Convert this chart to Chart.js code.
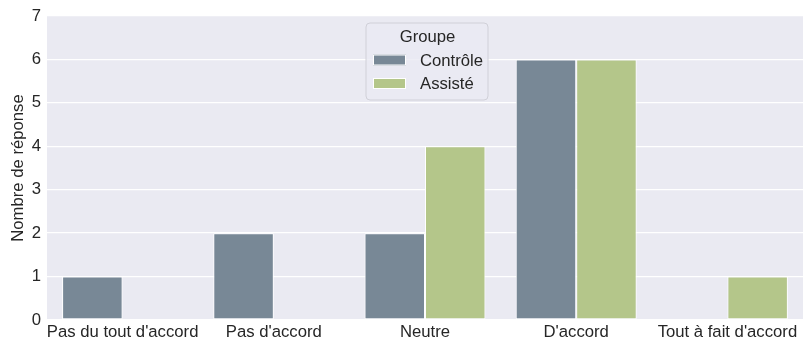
<!DOCTYPE html>
<html>
<head>
<meta charset="utf-8">
<script src="https://cdn.jsdelivr.net/npm/chart.js@4/dist/chart.umd.min.js"></script>
<style>
html,body{margin:0;padding:0;background:#fff;}
#wrap{width:803px;height:343px;}
</style>
</head>
<body>
<div id="wrap"><canvas id="c" width="803" height="343"></canvas></div>
<script>
const categories = ["Pas du tout d'accord", "Pas d'accord", "Neutre", "D'accord", "Tout à fait d'accord"];
const controle = [1, 2, 2, 6, 0];
const assiste = [0, 0, 4, 6, 1];
const seriesNames = ["Contrôle", "Assisté"];
const legendTitle = "Groupe";
const yTitle = "Nombre de réponse";
const yTicks = [0, 1, 2, 3, 4, 5, 6, 7];

const colors = ["#788896", "#b4c68a"];
const textColor = "#262626";
const FONT = "'Liberation Sans', Arial, sans-serif";
const FS = 16.7;

const bgPlugin = {
  id: 'bg',
  beforeDraw(chart) {
    const {ctx, chartArea: a} = chart;
    ctx.save();
    ctx.fillStyle = '#eaeaf2';
    ctx.fillRect(a.left, a.top, a.right - a.left, a.bottom - a.top);
    ctx.restore();
  }
};

const legendPlugin = {
  id: 'customLegend',
  afterDraw(chart) {
    const ctx = chart.ctx;
    const x = 366, y = 23, w = 122, h = 77, r = 4;
    ctx.save();
    ctx.beginPath();
    ctx.moveTo(x + r, y);
    ctx.arcTo(x + w, y, x + w, y + h, r);
    ctx.arcTo(x + w, y + h, x, y + h, r);
    ctx.arcTo(x, y + h, x, y, r);
    ctx.arcTo(x, y, x + w, y, r);
    ctx.closePath();
    ctx.fillStyle = 'rgba(234,234,242,0.8)';
    ctx.fill();
    ctx.strokeStyle = '#d0d0d8';
    ctx.lineWidth = 1;
    ctx.stroke();
    ctx.fillStyle = textColor;
    ctx.font = FS + "px " + FONT;
    ctx.textAlign = 'center';
    ctx.textBaseline = 'middle';
    ctx.fillText(legendTitle, x + w / 2 + 0.5, 37.5);
    ctx.textAlign = 'left';
    const rows = [60, 83.5];
    seriesNames.forEach((name, i) => {
      ctx.fillStyle = colors[i];
      ctx.fillRect(373, rows[i] - 5.5, 33, 11);
      ctx.strokeStyle = '#ffffff';
      ctx.lineWidth = 1;
      ctx.strokeRect(373.5, rows[i] - 5, 32, 10);
      ctx.fillStyle = textColor;
      ctx.fillText(name, 420, rows[i] + 1);
    });
    ctx.restore();
  }
};

const zeroAware = (ctx) => (ctx.raw === 0 ? 0 : 1);

new Chart(document.getElementById('c'), {
  type: 'bar',
  data: {
    labels: categories,
    datasets: [
      {label: seriesNames[0], data: controle, backgroundColor: colors[0], borderColor: '#ffffff', borderWidth: zeroAware, borderSkipped: false},
      {label: seriesNames[1], data: assiste, backgroundColor: colors[1], borderColor: '#ffffff', borderWidth: zeroAware, borderSkipped: false}
    ]
  },
  options: {
    responsive: false,
    animation: false,
    devicePixelRatio: 1,
    layout: {padding: {top: 15, right: 0, left: 0, bottom: 0}},
    datasets: {bar: {barPercentage: 1, categoryPercentage: 0.8}},
    plugins: {legend: {display: false}, tooltip: {enabled: false}},
    scales: {
      x: {
        grid: {display: false, drawTicks: false},
        border: {display: false},
        ticks: {color: textColor, font: {family: FONT, size: FS}, padding: 2, maxRotation: 0, autoSkip: false},
        afterFit(s) { s.height = 23; }
      },
      y: {
        min: 0, max: 7,
        grid: {color: '#ffffff', lineWidth: 1.3, drawTicks: false},
        border: {display: false},
        afterBuildTicks(s) { s.ticks = yTicks.map(v => ({value: v})); },
        ticks: {color: textColor, font: {family: FONT, size: FS}, padding: 6},
        title: {display: true, text: yTitle, color: textColor, font: {family: FONT, size: FS}, padding: {top: 8, bottom: 0}},
        afterFit(s) { s.width = 47; }
      }
    }
  },
  plugins: [bgPlugin, legendPlugin]
});
</script>
</body>
</html>
